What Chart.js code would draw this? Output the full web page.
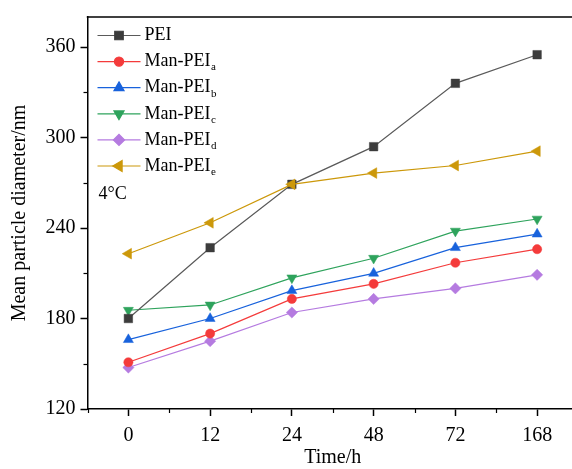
<!DOCTYPE html>
<html><head><meta charset="utf-8">
<script src="https://cdn.jsdelivr.net/npm/chart.js@4.4.1/dist/chart.umd.min.js"></script>
<style>html,body{margin:0;padding:0;background:#fff;overflow:hidden;width:572px;height:469px}canvas{display:block}</style>
</head><body>
<canvas id="c" width="590" height="469"></canvas>
<script>
// ---- data ----
const timeLabels = ['0', '12', '24', '48', '72', '168'];
const pei     = [180, 227, 269, 294, 336, 355];
const manPeiA = [151, 170, 193, 203, 217, 226];
const manPeiB = [166, 180, 198.5, 210, 227, 236];
const manPeiC = [185.5, 189, 207, 220, 238, 246];
const manPeiD = [147.5, 165, 184, 193, 200, 209];
const manPeiE = [223, 243.5, 269, 276.5, 281.5, 291];
const seriesNames = ['PEI', 'Man-PEI', 'Man-PEI', 'Man-PEI', 'Man-PEI', 'Man-PEI'];
const seriesSubs  = ['', 'a', 'b', 'c', 'd', 'e'];
const yTicks = [120, 180, 240, 300, 360];
const yMinorTicks = [150, 210, 270, 330];
const tempLabel = '4\u00B0C';
const xTitle = 'Time/h';
const yTitle = 'Mean particle diameter/nm';

// ---- styles ----
const FONT = "'Liberation Serif', 'Times New Roman', serif";
const styles = [
  {line: '#5a5a5a', fill: '#3c3c3c', pointStyle: 'rect', radius: 6, rotation: 0, order: 1},
  {line: '#f43b3b', fill: '#f43b3b', pointStyle: 'circle', radius: 4.6, rotation: 0, order: 5},
  {line: '#1862dc', fill: '#1862dc', pointStyle: 'triangle', radius: 5.8, rotation: 0, order: 4},
  {line: '#2ea35c', fill: '#2ea35c', pointStyle: 'triangle', radius: 5.8, rotation: 180, order: 3},
  {line: '#b57be0', fill: '#b57be0', pointStyle: 'rectRot', radius: 5.6, rotation: 0, order: 6},
  {line: '#cc980a', fill: '#cc980a', pointStyle: 'triangle', radius: 6.2, rotation: 270, order: 0}
];
const seriesData = [pei, manPeiA, manPeiB, manPeiC, manPeiD, manPeiE];

const datasets = seriesData.map((d, i) => ({
  label: seriesNames[i] + seriesSubs[i],
  data: d,
  borderColor: styles[i].line,
  backgroundColor: styles[i].fill,
  pointBackgroundColor: styles[i].fill,
  pointBorderColor: styles[i].fill,
  pointBorderWidth: 0.5,
  pointStyle: styles[i].pointStyle,
  pointRotation: styles[i].rotation,
  pointRadius: styles[i].radius,
  borderWidth: 1.2,
  tension: 0,
  order: styles[i].order
}));

const decor = {
  id: 'decor',
  afterDraw(chart) {
    const ctx = chart.ctx, ca = chart.chartArea;
    const xs = chart.scales.x, ys = chart.scales.y;
    ctx.save();
    ctx.strokeStyle = '#000';
    ctx.lineWidth = 1.5;
    // top frame line
    ctx.beginPath();
    ctx.moveTo(ca.left - 0.75, ca.top);
    ctx.lineTo(ca.right, ca.top);
    ctx.stroke();
    // minor ticks y
    ctx.lineWidth = 1.2;
    yMinorTicks.forEach(v => {
      const y = Math.round(ys.getPixelForValue(v)) + 0.5;
      ctx.beginPath(); ctx.moveTo(ca.left - 4, y); ctx.lineTo(ca.left, y); ctx.stroke();
    });
    // minor ticks x (category boundaries)
    const step = xs.getPixelForValue(1) - xs.getPixelForValue(0);
    for (let i = 0; i <= timeLabels.length; i++) {
      const x = (i < timeLabels.length)
        ? xs.getPixelForValue(i) - step / 2
        : xs.getPixelForValue(i - 1) + step / 2;
      const xx = Math.round(x) + 0.5;
      ctx.beginPath(); ctx.moveTo(xx, ca.bottom); ctx.lineTo(xx, ca.bottom + 4); ctx.stroke();
    }
    // legend
    const x0 = ca.left + 10, lineLen = 43, tx = ca.left + 57;
    chart.data.datasets.forEach((ds, i) => {
      const y = ca.top + 18.5 + 26.1 * i;
      ctx.strokeStyle = styles[i].line;
      ctx.lineWidth = 1.2;
      ctx.beginPath(); ctx.moveTo(x0, y); ctx.lineTo(x0 + lineLen, y); ctx.stroke();
      ctx.fillStyle = styles[i].fill;
      ctx.strokeStyle = styles[i].fill;
      if (Chart.helpers && Chart.helpers.drawPoint) {
        Chart.helpers.drawPoint(ctx, {pointStyle: styles[i].pointStyle, rotation: styles[i].rotation,
          radius: styles[i].radius, borderWidth: 0.5}, x0 + lineLen / 2, y);
      }
      ctx.fillStyle = '#000';
      ctx.textBaseline = 'middle';
      ctx.textAlign = 'left';
      ctx.font = '18px ' + FONT;
      ctx.fillText(seriesNames[i], tx, y);
      if (seriesSubs[i]) {
        const w = ctx.measureText(seriesNames[i]).width;
        ctx.font = '11px ' + FONT;
        ctx.fillText(seriesSubs[i], tx + w + 0.5, y + 6);
      }
    });
    ctx.font = '18px ' + FONT;
    ctx.fillStyle = '#000';
    ctx.textBaseline = 'middle';
    ctx.fillText(tempLabel, ca.left + 11, ca.top + 177);
    ctx.restore();
  }
};

new Chart(document.getElementById('c'), {
  type: 'line',
  data: {labels: timeLabels, datasets},
  plugins: [decor],
  options: {
    responsive: false,
    animation: false,
    layout: {padding: {top: 15, right: 12, left: 0, bottom: 0}},
    plugins: {legend: {display: false}, tooltip: {enabled: false}},
    scales: {
      x: {
        type: 'category',
        offset: true,
        grid: {offset: false, drawOnChartArea: false, tickLength: 7, tickWidth: 1.5, tickColor: '#000'},
        border: {color: '#000', width: 1.5},
        ticks: {color: '#000', font: {family: FONT, size: 20}, padding: 8, maxRotation: 0},
        title: {display: true, text: xTitle, color: '#000', font: {family: FONT, size: 20}, padding: {top: 0, bottom: -1}},
        afterFit(s) { s.height = 60; }
      },
      y: {
        min: 120, max: 380,
        afterBuildTicks(s) { s.ticks = yTicks.map(v => ({value: v})); },
        grid: {drawOnChartArea: false, tickLength: 7, tickWidth: 1.5, tickColor: '#000'},
        border: {color: '#000', width: 1.5},
        ticks: {color: '#000', font: {family: FONT, size: 20}, padding: 5},
        title: {display: true, text: yTitle, color: '#000', font: {family: FONT, size: 20}, padding: {top: 8, bottom: 0}},
        afterFit(s) { s.width = 87.5; }
      }
    }
  }
});
</script>
</body></html>
